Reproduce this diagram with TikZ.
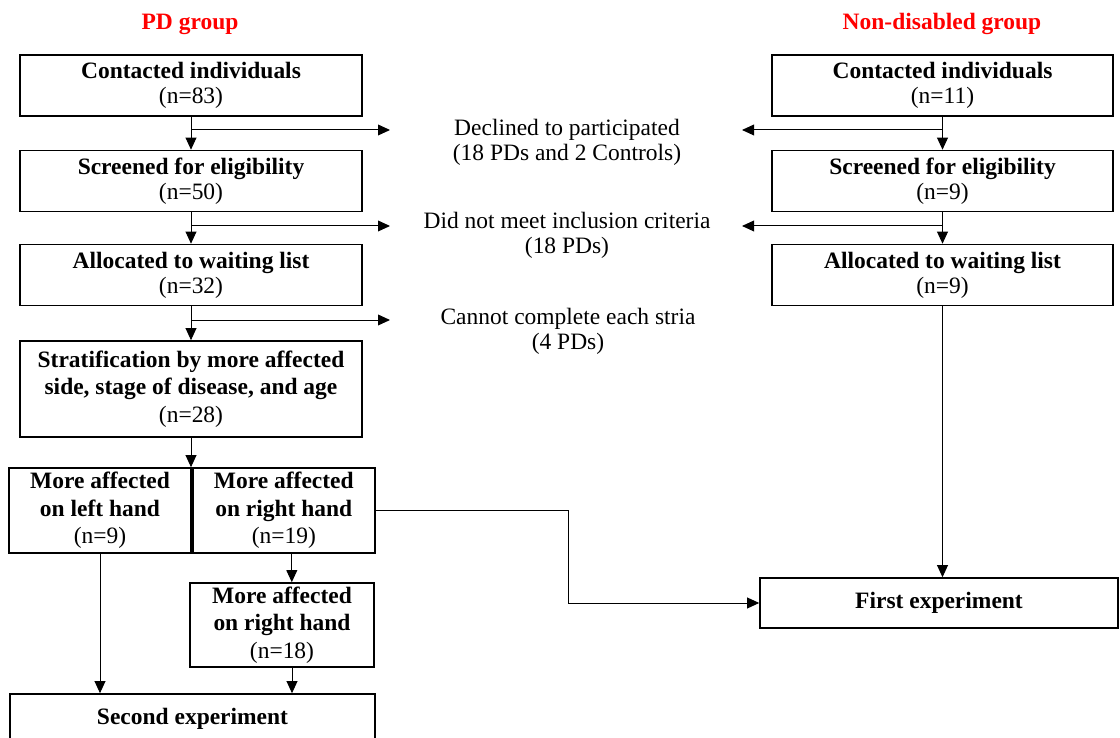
\documentclass[tikz,border=0pt]{standalone}
\usepackage{fontspec}
\setmainfont{Liberation Serif}
\usepackage{tikz}
\usetikzlibrary{arrows.meta, positioning, calc}

\begin{document}
\begin{tikzpicture}[
    box/.style={draw, line width=1.1pt, inner sep=0pt, align=center, minimum width=8.55cm, minimum height=1.525cm, font=\fontsize{16.7}{17.8}\selectfont},
    tallbox/.style={box, font=\fontsize{16.7}{19.6}\selectfont},
    handbox/.style={tallbox, minimum width=4.55cm, minimum height=2.125cm},
    lbl/.style={align=center, inner sep=0pt, font=\fontsize{16.7}{17.8}\selectfont},
    grp/.style={inner sep=0pt, text=red, font=\fontsize{16.7}{17.8}\selectfont\bfseries},
    arrow/.style={-{Triangle[length=3mm, width=2.7mm]}, line width=0.7pt}
]
    \useasboundingbox (0,0) rectangle (28,18.45);
    \clip (0,0) rectangle (28,18.45);

    \node[grp] (gpd) at (4.75, 17.85) {PD group};
    \node[grp] (gnd) at (23.55, 17.85) {Non-disabled group};

    \node[box] (c1) at (4.775, 16.3125) {\textbf{Contacted individuals}\\(n=83)};
    \node[box] (s1) at (4.775, 13.925) {\textbf{Screened for eligibility}\\(n=50)};
    \node[box] (a1) at (4.775, 11.575) {\textbf{Allocated to waiting list}\\(n=32)};
    \node[tallbox, minimum height=2.4cm] (st1) at (4.775, 8.725) {\textbf{Stratification by more affected}\\\textbf{side, stage of disease, and age}\\(n=28)};
    \node[handbox, minimum width=4.55cm] (lh) at (2.5, 5.6875) {\textbf{More affected}\\\textbf{on left hand}\\(n=9)};
    \node[handbox] (rh19) at (7.095, 5.6875) {\textbf{More affected}\\\textbf{on right hand}\\(n=19)};
    \node[handbox, minimum width=4.6cm, minimum height=2.1cm] (rh18) at (7.05, 2.825) {\textbf{More affected}\\\textbf{on right hand}\\(n=18)};
    \node[box, minimum width=9.125cm, minimum height=1.25cm] (se) at (4.8125, 0.475) {\textbf{Second experiment}};

    \node[box, minimum width=8.525cm] (nc) at (23.5625, 16.3125) {\textbf{Contacted individuals}\\(n=11)};
    \node[box, minimum width=8.525cm] (ns) at (23.5625, 13.925) {\textbf{Screened for eligibility}\\(n=9)};
    \node[box, minimum width=8.525cm] (na) at (23.5625, 11.575) {\textbf{Allocated to waiting list}\\(n=9)};
    \node[box, minimum width=8.95cm, minimum height=1.25cm] (fe) at (23.475, 3.375) {\textbf{First experiment}};

    \node[lbl] (l1) at (14.175, 14.9) {Declined to participated\\(18 PDs and 2 Controls)};
    \node[lbl] (l2) at (14.175, 12.575) {Did not meet inclusion criteria\\(18 PDs)};
    \node[lbl] (l3) at (14.2, 10.175) {Cannot complete each stria\\(4 PDs)};

    \coordinate (d1l) at (9.75, 15.2);
    \coordinate (d1r) at (18.55, 15.2);
    \coordinate (d2l) at (9.75, 12.8);
    \coordinate (d2r) at (18.55, 12.8);
    \coordinate (d3l) at (9.75, 10.45);
    \coordinate (bend) at (14.2, 3.375);

    \draw[arrow] (c1.south) -- (s1.north);
    \draw[arrow] (s1.south) -- (a1.north);
    \draw[arrow] (a1.south) -- (st1.north);
    \draw[arrow] (st1.south) -- (st1.south |- lh.north);
    \draw[arrow] (c1.south |- d1l) -- (d1l);
    \draw[arrow] (s1.south |- d2l) -- (d2l);
    \draw[arrow] (a1.south |- d3l) -- (d3l);

    \draw[arrow] (nc.south) -- (ns.north);
    \draw[arrow] (ns.south) -- (na.north);
    \draw[arrow] (nc.south |- d1r) -- (d1r);
    \draw[arrow] (ns.south |- d2r) -- (d2r);
    \draw[arrow] (na.south) -- (na.south |- fe.north);

    \draw[arrow] (lh.south) -- (lh.south |- se.north);
    \draw[arrow] ([xshift=0.2cm]rh19.south) -- ([xshift=0.2cm]rh19.south |- rh18.north);
    \draw[arrow] ([xshift=0.25cm]rh18.south) -- ([xshift=0.25cm]rh18.south |- se.north);
    \draw[arrow] (rh19.east) -| (bend) -- (fe.west);
\end{tikzpicture}
\end{document}
